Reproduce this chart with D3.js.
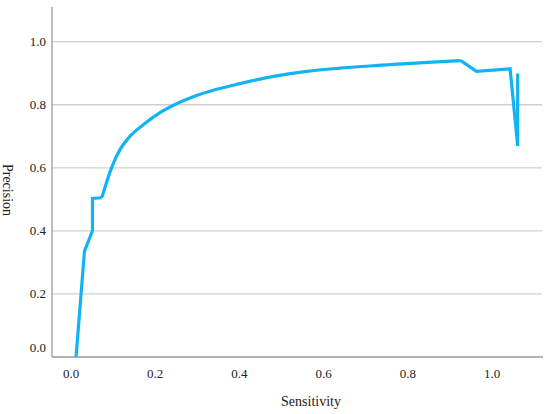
<!DOCTYPE html>
<html><head><meta charset="utf-8">
<script src="https://cdn.jsdelivr.net/npm/d3@7"></script>
<style>body{margin:0;background:#fff}</style>
</head><body><svg id="c" width="550" height="414" font-family="'Liberation Serif','DejaVu Serif',serif"></svg>
<script>
const sensitivity = [0.012,0.032,0.051,0.051,0.073,0.085,0.097,0.116,0.136,0.176,0.215,0.247,0.295,0.330,0.401,0.481,0.560,0.639,0.710,0.926,0.963,1.043,1.061,1.061];
const precision   = [0.000,0.336,0.400,0.503,0.505,0.556,0.602,0.657,0.694,0.741,0.778,0.801,0.828,0.843,0.867,0.890,0.906,0.916,0.923,0.940,0.906,0.914,0.669,0.899];
const xTicks = [0.0,0.2,0.4,0.6,0.8,1.0];
const yTicks = [0.0,0.2,0.4,0.6,0.8,1.0];

(function(){
const svg = d3.select("#c");
const x = d3.scaleLinear().domain([0,1]).range([71,492]);
const y = d3.scaleLinear().domain([0,1]).range([357,41.7]);
const pLeft = 52, pRight = 543, pTop = 7, pBottom = 357;

svg.append("g").selectAll("line").data(yTicks.filter(d=>d>0)).join("line")
  .attr("x1",pLeft).attr("x2",pRight-1).attr("y1",d=>y(d)).attr("y2",d=>y(d))
  .attr("stroke","#cfcfcf").attr("stroke-width",1.3);

svg.append("line").attr("x1",pLeft).attr("x2",pLeft).attr("y1",pTop).attr("y2",pBottom)
  .attr("stroke","#9a9a9a").attr("stroke-width",1.3);
svg.append("line").attr("x1",pLeft).attr("x2",pRight).attr("y1",pBottom).attr("y2",pBottom)
  .attr("stroke","#9a9a9a").attr("stroke-width",1.3);

svg.append("g").selectAll("text").data(yTicks).join("text")
  .attr("x",46).attr("y",d=>d===0?y(d)-10:y(d)).attr("dy","0.35em")
  .attr("text-anchor","end").attr("font-size",13).attr("fill","#222")
  .text(d=>d3.format(".1f")(d));
svg.append("g").selectAll("text").data(xTicks).join("text")
  .attr("x",d=>x(d)).attr("y",373).attr("dy","0.35em")
  .attr("text-anchor","middle").attr("font-size",13).attr("fill","#222")
  .text(d=>d3.format(".1f")(d));

svg.append("text").attr("x",311).attr("y",401).attr("dy","0.35em")
  .attr("text-anchor","middle").attr("font-size",14).attr("fill","#222").text("Sensitivity");
svg.append("text").attr("transform","translate(8,190) rotate(90)")
  .attr("text-anchor","middle").attr("dy","0.35em").attr("font-size",14).attr("fill","#222").text("Precision");

const pts = sensitivity.map((s,i)=>[s,precision[i]]);
const lineL = d3.line().x(d=>x(d[0])).y(d=>y(d[1]));
const lineS = d3.line().x(d=>x(d[0])).y(d=>y(d[1])).curve(d3.curveMonotoneX);
const style = p => p.attr("fill","none").attr("stroke","#12b3f4").attr("stroke-width",3.2)
  .attr("stroke-linejoin","miter").attr("stroke-linecap","butt");
svg.append("path").datum(pts.slice(0,5)).attr("d",lineL).call(style);
svg.append("path").datum(pts.slice(4,20)).attr("d",lineS).call(style);
svg.append("path").datum(pts.slice(19)).attr("d",lineL).call(style);
})();
</script></body></html>
